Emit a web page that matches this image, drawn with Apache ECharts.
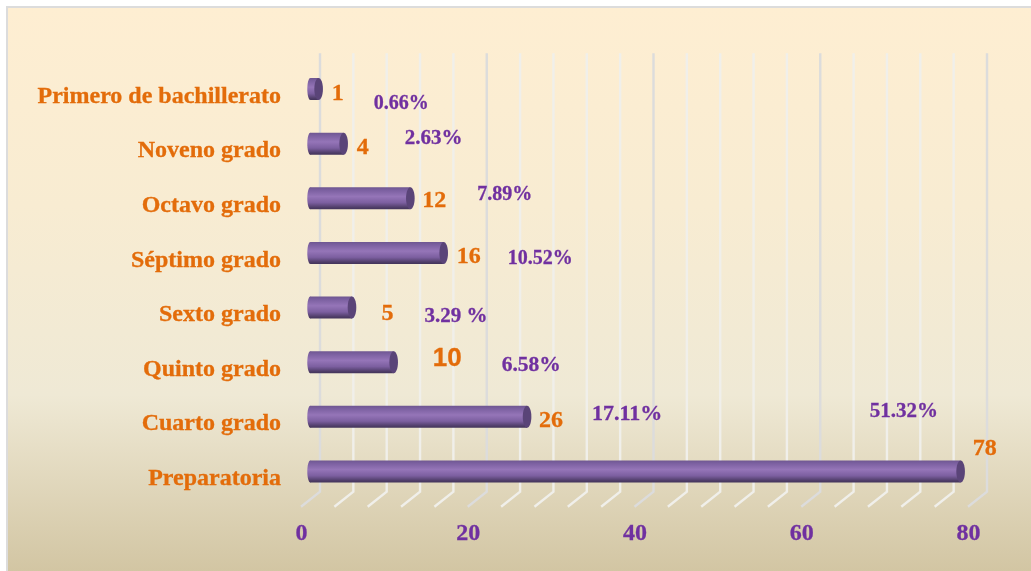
<!DOCTYPE html>
<html><head><meta charset="utf-8">
<style>html,body{margin:0;padding:0;background:#fff}#c{width:1031px;height:571px}</style>
<script src="https://cdn.jsdelivr.net/npm/echarts@6/dist/echarts.min.js"></script>
</head><body><div id="c"></div>
<script>
const categories = ['Preparatoria','Cuarto grado','Quinto grado','Sexto grado','Séptimo grado','Octavo grado','Noveno grado','Primero de bachillerato'];
const counts = [78,26,10,5,16,12,4,1];
const percentLabels = ['51.32%','17.11%','6.58%','3.29 %','10.52%','7.89%','2.63%','0.66%'];
const wallTicks = [0,4,8,12,16,20,24,28,32,36,40,44,48,52,56,60,64,68,72,76,80];
// hand-placed label positions of the reference, as pixel offsets from the bar end
const countOffsetX = [12,12,39,29.5,13,12,13,13];
const countOffsetY = [-23,4,-3,6,4,3,4,5];
const percentOffsetX = [-91,65,108,72.5,64,67,61,55];
const percentOffsetY = [-60,-2,3,9,6,-3,-5,15];
const percentFontSizes = [21,22,21.5,21,20,20,21,20];
const DEPTH_X = 19, DEPTH_Y = 15, WALL_TOP_EXTRA = 1.5, BAR_LIFT = 8, BAR_SHIFT = 9.3, CAP_RX = 4.3, BAR_H = 22;
const ORANGE = '#e36c0a', PURPLE = '#7030a0', FONT = '"Liberation Serif","Times New Roman",serif';
const chart = echarts.init(document.getElementById('c'), null, {renderer:'canvas'});
chart.setOption({
  animation:false,
  backgroundColor:'#fff',
  graphic:[{type:'rect',z:-10,silent:true,shape:{x:7,y:7,width:1030,height:570},
    style:{stroke:'#dcdcdc',lineWidth:2,fill:{type:'linear',x:0,y:0,x2:0,y2:1,colorStops:[
      {offset:0,color:'#feeed2'},{offset:0.35,color:'#f8ecd2'},{offset:0.68,color:'#efe9d5'},{offset:1,color:'#d1c4a1'}]}}}],
  grid:{left:301.5,top:69.2,width:667,height:437},
  xAxis:{type:'value',min:0,max:80,interval:20,splitLine:{show:false},axisLine:{show:false},axisTick:{show:false},
    axisLabel:{margin:15.5,color:PURPLE,fontFamily:FONT,fontWeight:'bold',fontSize:24,textBorderColor:PURPLE,textBorderWidth:0.3}},
  yAxis:{type:'category',data:categories,axisLine:{show:false},axisTick:{show:false},
    axisLabel:{margin:20.5,color:ORANGE,fontFamily:FONT,fontWeight:'bold',fontSize:24,textBorderColor:ORANGE,textBorderWidth:0.3}},
  series:[
    {type:'custom',silent:true,z:1,clip:false,data:wallTicks.map(v=>[v]),encode:{x:0},
      renderItem(p,api){
        const v=api.value(0),x=api.coord([v,0])[0]-0.5,cs=p.coordSys;
        const major=v%20===0;
        return {type:'polyline',shape:{points:[[x+DEPTH_X,cs.y-DEPTH_Y-WALL_TOP_EXTRA+0.5],[x+DEPTH_X,cs.y+cs.height-DEPTH_Y+0.5],[x,cs.y+cs.height+0.5]]},
          style:{fill:null,stroke:major?'#dcdcdc':'#f0efea',lineWidth:2.4}};
      }},
    {type:'custom',silent:true,z:2,clip:false,data:counts.map((v,i)=>[v,i]),encode:{x:0,y:1},
      renderItem(p,api){
        const i=p.dataIndex,pt=api.coord([api.value(0),api.value(1)]),x0=api.coord([0,0])[0]+BAR_SHIFT-0.5;
        const x1=pt[0]+BAR_SHIFT-0.5,cy=pt[1]-BAR_LIFT+0.5,top=cy-BAR_H/2;
        const fill={type:'linear',x:0,y:0,x2:0,y2:1,colorStops:[{offset:0,color:'#6e5690'},{offset:0.12,color:'#7a5f9f'},{offset:0.42,color:'#9575b8'},{offset:0.7,color:'#7c5fa0'},{offset:0.92,color:'#4f3d68'},{offset:1,color:'#43345a'}]};
        return {type:'group',children:[
          {type:'ellipse',shape:{cx:x0,cy,rx:3,ry:BAR_H/2},style:{fill}},
          {type:'rect',shape:{x:x0,y:top,width:x1-x0,height:BAR_H},style:{fill}},
          {type:'ellipse',shape:{cx:x1,cy,rx:CAP_RX,ry:BAR_H/2},style:{fill:'#5a4478'}},
          {type:'text',style:{x:x1+countOffsetX[i],y:cy+countOffsetY[i],text:String(counts[i]),align:'left',verticalAlign:'middle',
            fill:ORANGE,stroke:ORANGE,lineWidth:0.3,font:counts[i]===10?'bold 26px "Liberation Sans",Arial,sans-serif':'bold 24px '+FONT}},
          {type:'text',style:{x:x1+percentOffsetX[i],y:cy+percentOffsetY[i],text:percentLabels[i],align:'left',verticalAlign:'middle',
            fill:PURPLE,stroke:PURPLE,lineWidth:0.3,font:'bold '+percentFontSizes[i]+'px '+FONT}}
        ]};
      }}
  ]
});
</script></body></html>
